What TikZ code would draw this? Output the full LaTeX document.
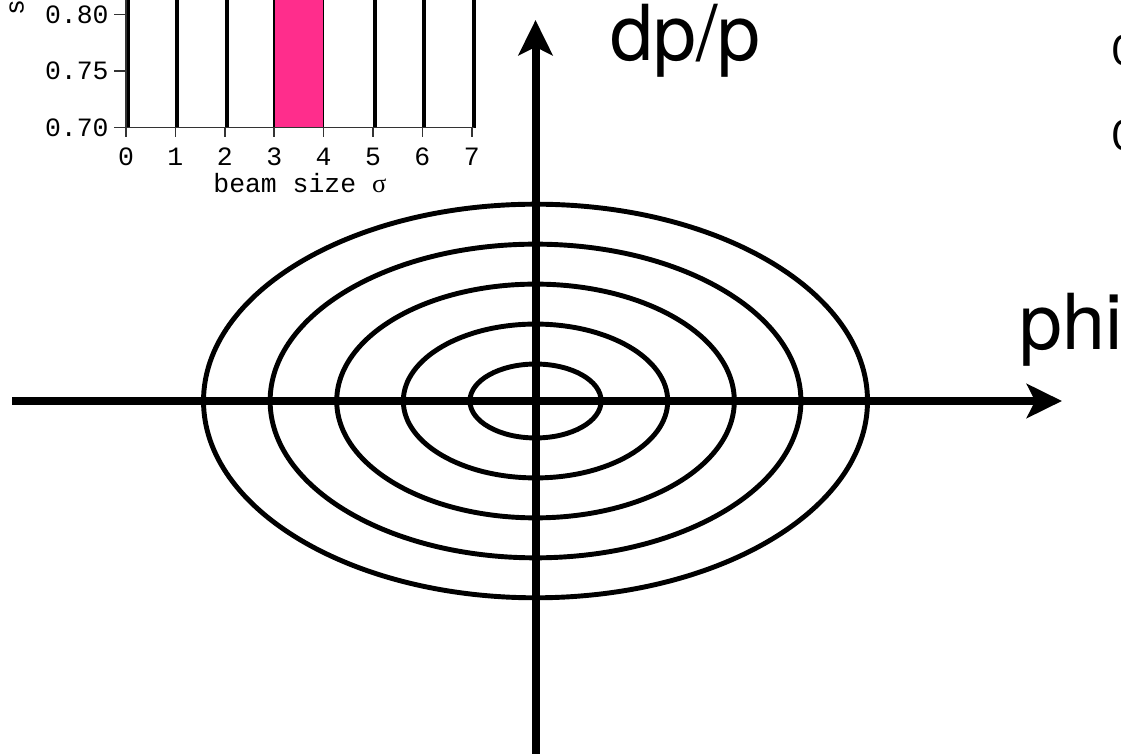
\documentclass[tikz,border=0pt]{standalone}
\usepackage{fontspec}
\setmainfont{TeX Gyre Heros}
\newfontfamily\plotfont{Liberation Mono}
\newfontfamily\sigfont{Liberation Serif}
\newfontfamily\cutfont{Carlito}
\usepackage{xcolor}
\usetikzlibrary{arrows.meta}
\definecolor{barpink}{RGB}{255,45,140}

\begin{document}
\begin{tikzpicture}[>={Stealth[length=15pt, width=14.5pt, inset=3.5pt]},
    axis/.style={line width=3.4pt},
    ring/.style={line width=2.1pt},
    bigtext/.style={font=\fontsize{33}{36}\selectfont, inner sep=0pt},
    plotline/.style={line width=0.65pt, black!80}]
    \clip (-8.041,-5.300) rectangle (8.791,6.021);

    % 1. Các elip đồng tâm
    \foreach \r in {1,...,5}
        \draw[ring] (0,0) ellipse ({\r-0.015} and {0.6*\r-0.045});

    % 2. Trục tọa độ
    \coordinate (W) at (-7.86,0);
    \coordinate (E) at (7.905,0);
    \coordinate (S) at (0,-5.4);
    \coordinate (N) at (0,5.72);
    \draw[->, axis] (W) -- (E);
    \draw[->, axis] (S) -- (N);
    \node[bigtext, anchor=base west] (dpp) at (1.119,5.12) {dp/p};
    \node[bigtext, anchor=base west] (phi) at (7.26,0.766) {phi};

    % 3. Biểu đồ nhỏ ở góc trên
    \begin{scope}[shift={(-6.149,4.105)}, x=0.7417cm, y=0.85cm,
        font=\plotfont\fontsize{11.3}{13}\selectfont]
        \fill[barpink] (3,0) rectangle (4,2.4);
        \draw[line width=0.6pt] (3,2.4) -- (3,0) -- (4,0) -- (4,2.4);
        \foreach \n in {0,1,2,5,6,7}
            \draw[line width=1.7pt] (\n+0.04,0) -- (\n+0.04,2.4);
        \draw[plotline] (0,2.4) -- (0,0) -- (7.05,0);
        \foreach \n in {0,...,7} {
            \draw[plotline] (\n,0) -- ++(0,-0.16);
            \node[anchor=base] (xt\n) at (\n,-0.67) {\n};
        }
        \foreach \val/\j in {0.70/0, 0.75/1, 0.80/2} {
            \draw[plotline] (0,\j) -- ++(-0.25,0);
            \node[left, inner sep=2pt] (yt\j) at (-0.25,\j) {\val};
        }
        \node[anchor=base] (xlab) at (3.52,-1.15) {beam size {\sigfont σ}};
    \end{scope}
    \node[rotate=90, inner sep=0pt, font=\plotfont\fontsize{11.3}{13}\selectfont] (ylab) at (-7.79,5.9) {s};

    % 4. Chữ bị cắt ở mép phải
    \node[anchor=west, inner sep=0pt, font=\cutfont\fontsize{20}{24}\selectfont] (cutA) at (8.66,5.27) {0};
    \node[anchor=west, inner sep=0pt, font=\cutfont\fontsize{20}{24}\selectfont] (cutB) at (8.66,3.99) {0};
\end{tikzpicture}
\end{document}
